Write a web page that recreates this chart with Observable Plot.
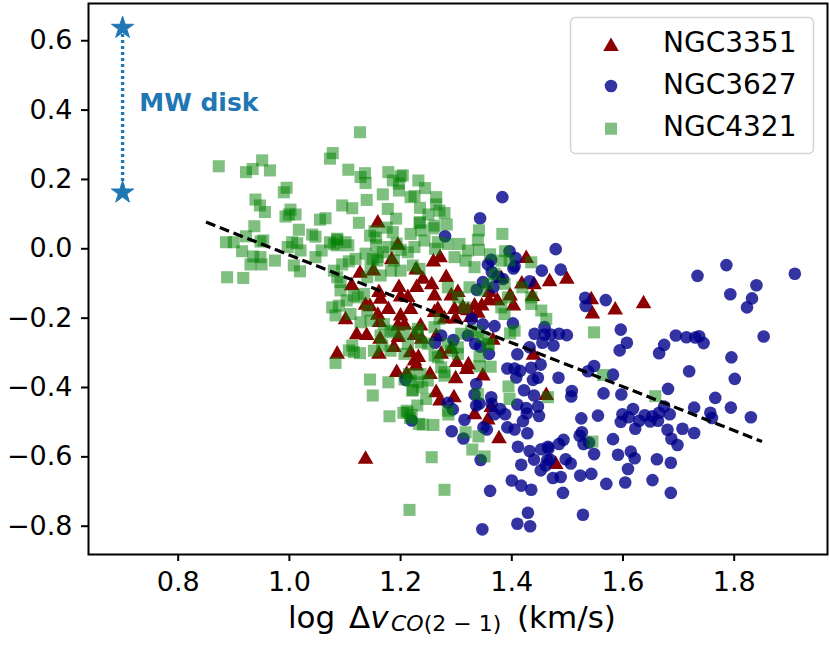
<!DOCTYPE html>
<html>
<head>
<meta charset="utf-8">
<script src="https://cdn.jsdelivr.net/npm/d3@7"></script>
<script src="https://cdn.jsdelivr.net/npm/@observablehq/plot@0.6"></script>
<style>
  html, body { margin: 0; padding: 0; background: white; }
  #chart { width: 830px; height: 645px; }
</style>
</head>
<body>
<div id="chart"></div>
<script>
// ---------- data ----------
const seriesNames = ["NGC3351", "NGC3627", "NGC4321"];

// NGC3351 : [log dv, y]
const ngc3351 = [
[1.499,-0.082],[1.543,-0.141],[1.545,-0.182],[1.586,-0.171],[1.637,-0.153],
[1.159,0.080],[1.195,0.016],[1.184,-0.026],[1.127,-0.065],[1.151,-0.058],[1.112,-0.101],[1.161,-0.120],
[1.164,-0.140],[1.137,-0.157],[1.145,-0.161],[1.101,-0.199],[1.121,-0.242],[1.139,-0.244],[1.159,-0.186],
[1.162,-0.207],[1.178,-0.169],[1.197,-0.106],[1.200,-0.133],[1.213,-0.135],[1.228,-0.055],[1.259,-0.032],
[1.271,-0.020],[1.282,-0.077],[1.240,-0.082],[1.256,-0.098],[1.261,-0.130],[1.229,-0.106],[1.291,-0.130],
[1.303,-0.120],[1.312,-0.164],[1.333,-0.159],[1.346,-0.159],[1.359,-0.144],[1.360,-0.120],[1.374,-0.144],
[1.381,-0.080],[1.397,-0.130],[1.403,-0.159],[1.418,-0.096],[1.426,-0.022],[1.440,-0.098],[1.468,-0.089],
[1.437,-0.132],[1.339,-0.180],[1.366,-0.258],[1.264,-0.247],[1.225,-0.244],[1.207,-0.215],[1.195,-0.217],
[1.200,-0.188],[1.236,-0.217],[1.267,-0.169],[1.297,-0.169],[1.321,-0.173],[1.326,-0.192],[1.299,-0.197],
[1.279,-0.197],[1.218,-0.169],[1.261,-0.178],
[1.086,-0.298],[1.137,-0.601],[1.193,-0.351],[1.211,-0.356],[1.253,-0.357],[1.264,-0.409],[1.296,-0.424],
[1.271,-0.433],[1.299,-0.369],[1.319,-0.342],[1.322,-0.329],[1.301,-0.322],[1.348,-0.361],[1.333,-0.473],
[1.357,-0.488],[1.363,-0.452],[1.377,-0.542],[1.479,-0.616],[1.462,-0.417],[1.439,-0.301],[1.163,-0.255],
[1.196,-0.250],[1.238,-0.255],[1.161,-0.298],[1.188,-0.279],[1.218,-0.294],[1.232,-0.308],[1.228,-0.332],
[1.225,-0.318],[1.291,-0.284],[1.273,-0.298]
];

// NGC3627
const ngc3627 = [
[1.786,-0.047],[1.734,-0.078],[1.909,-0.072],[1.840,-0.105],[1.793,-0.131],[1.832,-0.143],[1.823,-0.169],
[1.532,-0.141],[1.533,-0.165],[1.569,-0.148],[1.499,-0.249],[1.596,-0.233],[1.607,-0.271],[1.594,-0.293],
[1.695,-0.250],[1.714,-0.255],[1.730,-0.256],[1.737,-0.252],[1.745,-0.272],[1.674,-0.277],[1.665,-0.301],
[1.853,-0.253],[1.795,-0.313],[1.719,-0.353],[1.801,-0.375],[1.548,-0.338],[1.537,-0.353],[1.582,-0.363],
[1.508,-0.410],[1.507,-0.426],[1.565,-0.417],[1.597,-0.420],[1.681,-0.404],[1.766,-0.430],[1.728,-0.458],
[1.794,-0.458],[1.674,-0.455],[1.618,-0.462],
[1.830,-0.486],[1.757,-0.473],[1.760,-0.488],[1.665,-0.473],[1.653,-0.483],[1.639,-0.480],[1.629,-0.496],
[1.649,-0.498],[1.663,-0.496],[1.684,-0.477],[1.599,-0.477],[1.596,-0.499],[1.610,-0.486],[1.555,-0.481],
[1.525,-0.489],[1.440,-0.423],[1.447,-0.455],[1.449,-0.482],[1.426,-0.459],[1.427,-0.475],[1.420,-0.497],
[1.410,-0.449],[1.422,-0.408],[1.405,-0.521],[1.392,-0.515],[1.428,-0.532],[1.388,-0.477],[1.379,-0.462],
[1.369,-0.477],[1.363,-0.428],[1.364,-0.447],[1.342,-0.446],[1.336,-0.452],[1.333,-0.420],[1.336,-0.390],
[1.315,-0.493],[1.294,-0.463],[1.292,-0.526],[1.313,-0.547],[1.349,-0.515],[1.355,-0.521],[1.285,-0.444],
[1.344,-0.609],[1.361,-0.698],[1.347,-0.809],[1.400,-0.668],[1.417,-0.623],[1.417,-0.683],[1.435,-0.695],
[1.411,-0.571],[1.432,-0.583],[1.440,-0.608],[1.453,-0.578],[1.465,-0.571],[1.466,-0.576],[1.464,-0.609],
[1.452,-0.639],[1.461,-0.625],[1.469,-0.608],[1.485,-0.563],[1.493,-0.551],[1.497,-0.607],[1.506,-0.619],
[1.474,-0.661],[1.488,-0.658],[1.492,-0.704],[1.429,-0.761],[1.410,-0.793],[1.433,-0.800],[1.522,-0.539],
[1.526,-0.529],[1.529,-0.563],[1.539,-0.559],[1.548,-0.592],[1.523,-0.654],[1.543,-0.649],[1.528,-0.767],
[1.570,-0.678],[1.582,-0.549],[1.591,-0.594],[1.604,-0.674],[1.609,-0.635],[1.614,-0.585],[1.621,-0.604],
[1.653,-0.667],[1.661,-0.607],[1.686,-0.617],[1.686,-0.704],[1.680,-0.522],[1.687,-0.548],[1.698,-0.566],
[1.707,-0.519],[1.728,-0.531],[1.622,-0.519],
[1.273,-0.250],[1.295,-0.263],[1.321,-0.250],[1.334,-0.274],[1.343,-0.282],[1.359,-0.303],[1.392,-0.345],
[1.405,-0.345],[1.415,-0.352],[1.408,-0.371],[1.435,-0.343],[1.452,-0.334],[1.438,-0.378],[1.447,-0.372],
[1.432,-0.284],[1.441,-0.245],[1.459,-0.247],[1.470,-0.247],[1.485,-0.245],[1.455,-0.271],[1.475,-0.279],
[1.484,-0.372],[1.410,-0.304],[1.209,-0.378],[1.262,-0.271],[1.220,-0.495],[1.459,-0.226],
[1.383,0.149],[1.343,0.088],[1.280,0.036],[1.396,-0.007],[1.407,-0.027],[1.363,-0.032],[1.357,-0.045],
[1.403,-0.057],[1.405,-0.050],[1.364,-0.067],[1.374,-0.080],[1.348,-0.096],[1.337,-0.118],[1.367,-0.111],
[1.384,-0.087],[1.432,-0.094],[1.454,-0.063],[1.488,-0.060],[1.479,-0.001],[1.348,-0.218],[1.369,-0.223],
[1.402,-0.215],[1.328,-0.202]
];

// NGC4321
const ngc4321 = [
[0.873,0.238],[0.922,0.221],[0.934,0.230],[0.951,0.255],[0.965,0.226],[0.995,0.176],[0.990,0.163],
[0.939,0.142],[0.947,0.125],[0.956,0.106],[1.002,0.113],[1.011,0.099],[0.993,0.093],[0.999,0.099],
[0.937,0.065],[1.017,0.055],[0.922,0.036],[0.886,0.019],[0.900,0.019],[0.953,0.024],[0.948,0.021],
[0.915,-0.007],[0.935,-0.022],[0.948,-0.024],[0.930,-0.045],[0.950,-0.045],[0.974,-0.034],
[1.005,0.019],[1.014,0.016],[0.997,0.005],[1.008,-0.048],[1.019,-0.065],
[1.041,0.041],[1.047,0.035],[1.073,0.019],[1.086,0.026],[1.085,0.010],[1.106,0.010],[1.058,-0.005],[1.047,-0.024],
[0.888,-0.082],[0.917,-0.084],[1.055,0.084],[1.065,0.088],[1.095,0.125],[1.113,0.117],[1.125,0.075],
[1.078,0.276],[1.073,0.260],[1.127,0.336],[1.106,0.228],[1.128,0.207],[1.136,0.218],[1.137,0.190],[1.139,0.141],
[1.095,-0.045],[1.107,-0.036],[1.119,-0.029],[1.145,0.038],[1.153,0.051],[1.156,0.010],[1.159,-0.024],
[1.092,-0.096],[1.092,-0.120],[1.103,-0.149],[1.116,-0.135],[1.110,-0.188],[1.077,-0.169],[1.083,-0.192],
[1.128,-0.212],[1.140,-0.178],
[1.178,0.221],[1.186,0.197],[1.200,0.209],[1.197,0.188],[1.197,0.168],[1.232,0.197],[1.244,0.175],
[1.218,0.149],[1.264,0.149],[1.264,0.128],[1.279,0.103],[1.250,0.099],[1.235,0.118],[1.235,0.077],
[1.259,0.059],[1.283,0.070],[1.177,0.115],[1.175,0.061],[1.186,0.048],[1.156,0.032],[1.178,0.005],
[1.200,-0.003],[1.213,-0.010],[1.225,0.005],[1.243,0.024],[1.267,0.019],[1.285,0.014],[1.306,0.014],
[1.339,0.026],[1.341,-0.003],[1.383,0.043],[1.388,-0.007],[1.361,-0.016],[1.321,-0.005],[1.317,-0.034],
[1.297,-0.024],[1.333,-0.053],[1.381,-0.034],[1.396,-0.034],[1.435,-0.039],[1.462,-0.202],[1.453,-0.178],
[1.548,-0.241],[1.405,-0.236],[1.435,-0.159],[1.419,-0.111],[1.435,-0.140],[1.393,-0.140],[1.387,-0.101],
[1.369,-0.072],[1.357,-0.101],[1.285,-0.111],[1.303,-0.140],[1.315,-0.169],[1.345,-0.120],[1.324,-0.111],
[1.381,-0.169],[1.387,-0.188],
[1.080,0.014],[1.086,0.029],[1.020,-0.005],[1.101,0.019],[1.137,-0.014],[1.150,-0.029],[1.168,-0.010],
[1.146,-0.048],[1.158,-0.034],[1.188,-0.034],[1.080,-0.063],[1.086,-0.082],[1.164,-0.077],[1.140,-0.082],
[1.183,-0.063],[1.200,-0.063],[1.222,-0.048],[1.234,-0.058],[1.134,-0.130],[1.123,-0.140],[1.089,-0.164],
[1.146,-0.207],[1.170,-0.217],[1.186,-0.241],[1.213,-0.274],[1.237,-0.270],[1.261,-0.226],[1.270,-0.202],
[1.309,-0.245],[1.327,-0.236],[1.348,-0.255],[1.357,-0.274],[1.303,-0.284],[1.285,-0.274],[1.231,-0.231],
[1.204,0.212],[1.225,0.152],[1.270,0.110],[1.261,0.067],[1.234,0.074],[1.237,0.053],[1.168,0.157],
[1.192,0.087],[1.218,0.043],[1.193,0.015],[1.341,0.053],[1.262,0.000],
[1.564,-0.364],[1.658,-0.425],
[1.394,-0.397],[1.396,-0.433],[1.339,-0.419],[1.317,-0.529],[1.340,-0.541],[1.329,-0.579],[1.351,-0.599],
[1.256,-0.601],[1.279,-0.695],[1.240,-0.507],[1.259,-0.508],[1.545,-0.556],
[1.216,-0.753],[1.150,-0.423],[1.180,-0.483],[1.205,-0.473],[1.213,-0.472],[1.220,-0.479],[1.221,-0.409],
[1.178,-0.385],[1.230,-0.452],[1.233,-0.505],
[1.083,-0.329],[1.113,-0.279],[1.116,-0.298],[1.127,-0.301],[1.107,-0.293],[1.145,-0.377],[1.207,-0.377],
[1.222,-0.407],[1.239,-0.399],[1.231,-0.385],[1.249,-0.380],[1.279,-0.356],[1.279,-0.366],[1.246,-0.433],
[1.211,-0.467],[1.217,-0.488],[1.285,-0.467],[1.286,-0.478],[1.465,-0.428],[1.362,-0.340],[1.342,-0.339],
[1.342,-0.310],[1.359,-0.276],[1.339,-0.241],[1.397,-0.244],[1.218,-0.380],[1.215,-0.361],[1.236,-0.361],
[1.273,-0.342],[1.267,-0.313],[1.261,-0.308],[1.291,-0.294],[1.303,-0.303],[1.207,-0.303],[1.249,-0.274],
[1.182,-0.294],[1.152,-0.294],[1.167,-0.279],[1.164,-0.250],[1.182,-0.236],[1.207,-0.241],[1.231,-0.241]
];

// Milky Way disk range (two stars joined by a dotted line)
const mwX = [0.70, 0.70];
const mwY = [0.637, 0.162];
const mwLabel = [{x: 0.73, y: 0.42, text: "MW disk"}];

// dashed fit line end points
const fitX = [0.85, 1.85];
const fitY = [0.077, -0.556];

const xTicks = [0.8, 1.0, 1.2, 1.4, 1.6, 1.8];
const yTicks = [-0.8, -0.6, -0.4, -0.2, 0.0, 0.2, 0.4, 0.6];

// ---------- build ----------
const toObj = a => a.map(([x, y]) => ({x, y}));
const d3351 = toObj(ngc3351), d3627 = toObj(ngc3627), d4321 = toObj(ngc4321);
const mw = mwX.map((x, i) => ({x, y: mwY[i]}));
const fit = fitX.map((x, i) => ({x, y: fitY[i]}));

const FONT = "DejaVu Sans, Liberation Sans, sans-serif";
const fmt = d3.format(".1f");

const chart = Plot.plot({
  width: 830,
  height: 645,
  marginLeft: 88,
  marginRight: 3,
  marginTop: 3,
  marginBottom: 91,
  style: {fontFamily: FONT, background: "white", color: "black"},
  x: {domain: [0.6387, 1.9678], label: null},
  y: {domain: [-0.8816, 0.7074], label: null},
  marks: [
    Plot.axisX({ticks: xTicks, tickFormat: fmt, tickSize: 7, tickPadding: 10, fontSize: 27, strokeWidth: 2, label: null}),
    Plot.axisY({ticks: yTicks, tickFormat: fmt, tickSize: 7, tickPadding: 9, fontSize: 27, strokeWidth: 2, label: null}),
    Plot.line(mw, {x: "x", y: "y", stroke: "#1f77b4", strokeWidth: 3.4, strokeLinecap: "butt", strokeDasharray: "3,3"}),
    Plot.dot(mw, {x: "x", y: "y", symbol: "star", r: 7, fill: "#1f77b4", stroke: "#1f77b4", strokeWidth: 1}),
    Plot.text(mwLabel, {x: "x", y: "y", text: "text", fill: "#1f77b4", fontWeight: "bold", fontSize: 25, textAnchor: "start", lineAnchor: "middle"}),
    Plot.dot(d3351, {x: "x", y: "y", symbol: "triangle", r: 5.8, dy: 2, fill: "#8b0000"}),
    Plot.dot(d3627, {x: "x", y: "y", symbol: "circle", r: 6.3, fill: "#00008b", fillOpacity: 0.8}),
    Plot.dot(d4321, {x: "x", y: "y", symbol: "square", r: 6.8, fill: "#008000", fillOpacity: 0.5}),
    Plot.line(fit, {x: "x", y: "y", stroke: "black", strokeWidth: 3.2, strokeLinecap: "butt", strokeDasharray: "10,4.8"}),
    Plot.frame({stroke: "black", strokeWidth: 2})
  ]
});

document.getElementById("chart").appendChild(chart);

// ---------- legend (inside the plot, top right) ----------
const svg = d3.select(chart);
const lg = svg.append("g").attr("font-family", FONT).attr("text-anchor", "start");
lg.append("rect")
  .attr("x", 570.5).attr("y", 17.5).attr("width", 243).attr("height", 136)
  .attr("rx", 5).attr("ry", 5)
  .attr("fill", "white").attr("fill-opacity", 0.8)
  .attr("stroke", "#d4d4d4").attr("stroke-width", 1.5);
const legendItems = [
  {name: seriesNames[0], sym: d3.symbolTriangle, size: Math.PI * 5.8 * 5.8, fill: "#8b0000", op: 1, cy: 44.3, dy: 2.2},
  {name: seriesNames[1], sym: d3.symbolCircle, size: Math.PI * 6.3 * 6.3, fill: "#00008b", op: 0.8, cy: 86, dy: 0},
  {name: seriesNames[2], sym: d3.symbolSquare, size: Math.PI * 6.8 * 6.8, fill: "#008000", op: 0.5, cy: 128.7, dy: 0}
];
legendItems.forEach(it => {
  lg.append("path")
    .attr("d", d3.symbol(it.sym, it.size)())
    .attr("transform", `translate(611,${it.cy + it.dy})`)
    .attr("fill", it.fill).attr("fill-opacity", it.op);
  lg.append("text")
    .attr("x", 663).attr("y", it.cy + 7.5)
    .attr("text-anchor", "start")
    .attr("font-size", 28).attr("fill", "black")
    .text(it.name);
});

// ---------- x axis label with math-like subscript ----------
const xl = svg.append("text")
  .attr("font-family", FONT).attr("font-size", 31).attr("fill", "black")
  .attr("text-anchor", "start")
  .attr("y", 628);
xl.append("tspan").attr("x", 288).text("log");
xl.append("tspan").attr("x", 349).text("Δ");
xl.append("tspan").attr("font-style", "italic").text("v");
xl.append("tspan").attr("x", 391).attr("dy", 3).attr("font-size", 22).attr("font-style", "italic").text("CO");
xl.append("tspan").attr("font-size", 22).text("(2 − 1)");
xl.append("tspan").attr("x", 517).attr("dy", -3).text("(km/s)");
</script>
</body>
</html>
